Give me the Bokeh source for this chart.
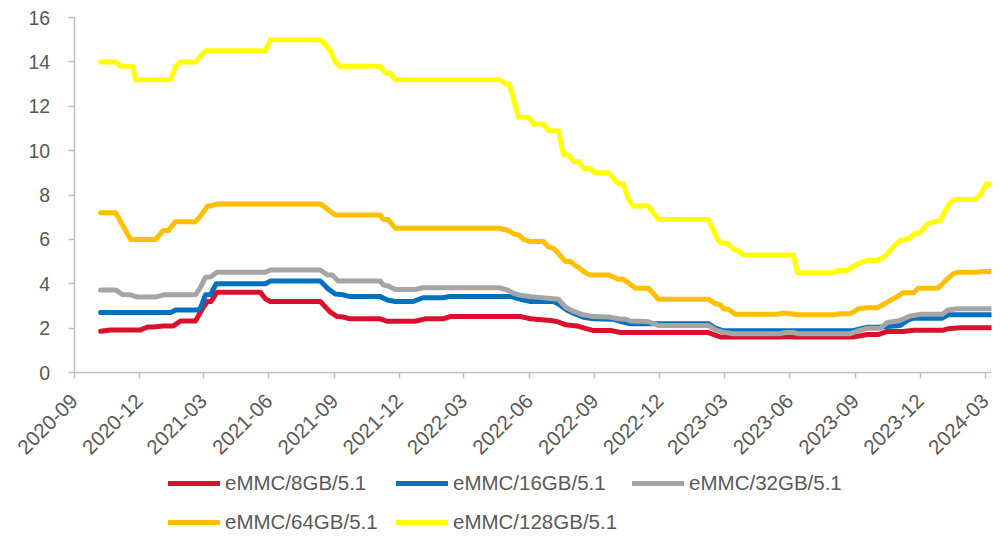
import numpy as np
from math import pi
from bokeh.plotting import figure
from bokeh.models import Range1d, FixedTicker, DatetimeTickFormatter, Legend, LegendItem
from bokeh.embed import file_html
from bokeh.resources import INLINE

# ---------------- data ----------------
series_names = ["eMMC/8GB/5.1", "eMMC/16GB/5.1", "eMMC/32GB/5.1", "eMMC/64GB/5.1", "eMMC/128GB/5.1"]
series_colors = ["#D9112C", "#0070C0", "#A5A5A5", "#FFC000", "#FFFF00"]

dates_8gb = ["2020-10-08", "2020-10-22", "2020-12-03", "2020-12-13", "2020-12-20", "2021-01-04", "2021-01-18",
             "2021-01-28", "2021-02-18", "2021-03-01", "2021-03-07", "2021-03-12", "2021-03-20", "2021-05-20",
             "2021-05-27", "2021-06-03", "2021-08-12", "2021-08-26", "2021-09-05", "2021-09-13", "2021-09-23",
             "2021-11-04", "2021-11-14", "2021-12-23", "2022-01-06", "2022-01-31", "2022-02-10", "2022-05-20",
             "2022-06-03", "2022-06-10", "2022-06-30", "2022-07-10", "2022-07-22", "2022-08-07", "2022-08-16",
             "2022-08-30", "2022-09-23", "2022-10-07", "2023-02-07", "2023-02-24", "2023-05-19", "2023-05-29",
             "2023-06-06", "2023-08-29", "2023-09-18", "2023-10-03", "2023-10-16", "2023-11-07", "2023-11-22",
             "2024-01-01", "2024-01-09", "2024-01-26", "2024-03-10"]
values_8gb = [1.86, 1.92, 1.92, 2.05, 2.05, 2.10, 2.10,
              2.32, 2.32, 2.94, 3.20, 3.20, 3.62, 3.62,
              3.32, 3.20, 3.20, 2.72, 2.52, 2.50, 2.42,
              2.42, 2.31, 2.31, 2.42, 2.42, 2.52, 2.52,
              2.42, 2.40, 2.34, 2.30, 2.15, 2.10, 2.01,
              1.89, 1.89, 1.80, 1.80, 1.60, 1.60, 1.62,
              1.60, 1.60, 1.71, 1.71, 1.85, 1.85, 1.90,
              1.90, 1.97, 2.02, 2.02]

dates_16gb = ["2020-10-08", "2021-01-14", "2021-01-21", "2021-02-21", "2021-02-25", "2021-03-04", "2021-03-11",
              "2021-03-19", "2021-05-27", "2021-06-03", "2021-08-12", "2021-08-23", "2021-09-02", "2021-09-13",
              "2021-09-23", "2021-11-04", "2021-11-14", "2021-11-25", "2021-12-20", "2022-01-03", "2022-01-31",
              "2022-02-10", "2022-05-06", "2022-05-20", "2022-06-03", "2022-07-05", "2022-07-12", "2022-07-25",
              "2022-08-02", "2022-08-16", "2022-08-30", "2022-09-27", "2022-10-11", "2022-10-21", "2023-02-07",
              "2023-02-17", "2023-02-28", "2023-08-29", "2023-09-18", "2023-10-02", "2023-10-16", "2023-11-03",
              "2023-11-14", "2023-11-22", "2024-01-01", "2024-01-09", "2024-03-10"]
values_16gb = [2.70, 2.70, 2.82, 2.82, 2.90, 3.50, 3.50,
               4.00, 4.00, 4.12, 4.12, 3.77, 3.54, 3.50,
               3.42, 3.42, 3.27, 3.20, 3.20, 3.37, 3.37,
               3.43, 3.43, 3.30, 3.20, 3.20, 3.09, 2.79,
               2.67, 2.49, 2.42, 2.40, 2.27, 2.20, 2.20,
               2.00, 1.88, 1.88, 2.04, 2.04, 2.07, 2.12,
               2.37, 2.45, 2.45, 2.60, 2.60]

dates_32gb = ["2020-10-08", "2020-10-29", "2020-11-08", "2020-11-19", "2020-11-29", "2020-12-24", "2021-01-04",
              "2021-02-18", "2021-02-25", "2021-03-04", "2021-03-11", "2021-03-20", "2021-05-27", "2021-06-03",
              "2021-08-12", "2021-08-22", "2021-08-29", "2021-09-06", "2021-11-04", "2021-11-08", "2021-11-15",
              "2021-11-25", "2021-12-23", "2022-01-03", "2022-04-20", "2022-05-01", "2022-05-10", "2022-05-20",
              "2022-06-03", "2022-07-05", "2022-07-12", "2022-07-22", "2022-08-02", "2022-08-16", "2022-08-30",
              "2022-09-20", "2022-10-04", "2022-10-14", "2022-10-21", "2022-11-14", "2022-11-29", "2023-02-07",
              "2023-02-17", "2023-02-28", "2023-03-14", "2023-05-19", "2023-05-26", "2023-06-06", "2023-06-13",
              "2023-08-25", "2023-09-04", "2023-09-18", "2023-10-06", "2023-10-16", "2023-11-03", "2023-11-17",
              "2023-12-01", "2024-01-01", "2024-01-09", "2024-01-22", "2024-03-10"]
values_32gb = [3.72, 3.72, 3.51, 3.50, 3.40, 3.40, 3.50,
               3.50, 3.84, 4.29, 4.30, 4.52, 4.52, 4.62,
               4.62, 4.40, 4.40, 4.12, 4.12, 3.95, 3.90,
               3.74, 3.74, 3.82, 3.82, 3.72, 3.57, 3.48,
               3.42, 3.32, 3.30, 2.94, 2.75, 2.60, 2.52,
               2.50, 2.42, 2.40, 2.32, 2.30, 2.12, 2.12,
               1.92, 1.82, 1.75, 1.75, 1.80, 1.80, 1.75,
               1.75, 1.86, 2.00, 2.00, 2.25, 2.35, 2.55,
               2.62, 2.62, 2.82, 2.87, 2.87]

dates_64gb = ["2020-10-08", "2020-10-29", "2020-11-19", "2020-12-24", "2021-01-04", "2021-01-11", "2021-01-21",
              "2021-02-18", "2021-02-25", "2021-03-07", "2021-03-11", "2021-03-20", "2021-08-12", "2021-09-02",
              "2021-11-04", "2021-11-08", "2021-11-15", "2021-11-25", "2022-04-20", "2022-05-03", "2022-05-10",
              "2022-05-17", "2022-05-24", "2022-06-03", "2022-06-21", "2022-06-28", "2022-07-05", "2022-07-22",
              "2022-07-29", "2022-08-05", "2022-08-09", "2022-08-16", "2022-08-25", "2022-09-20", "2022-10-04",
              "2022-10-11", "2022-10-28", "2022-11-15", "2022-11-29", "2023-02-07", "2023-02-17", "2023-02-24",
              "2023-02-28", "2023-03-07", "2023-03-17", "2023-05-15", "2023-05-23", "2023-06-02", "2023-06-12",
              "2023-08-01", "2023-08-11", "2023-08-25", "2023-09-05", "2023-09-18", "2023-10-02", "2023-10-16",
              "2023-10-30", "2023-11-07", "2023-11-22", "2023-11-28", "2023-12-26", "2024-01-05", "2024-01-16",
              "2024-01-23", "2024-02-19", "2024-02-26", "2024-03-10"]
values_64gb = [7.20, 7.20, 6.00, 6.00, 6.40, 6.40, 6.80,
               6.80, 7.05, 7.50, 7.50, 7.60, 7.60, 7.10,
               7.10, 6.90, 6.90, 6.50, 6.50, 6.40, 6.25,
               6.20, 6.00, 5.90, 5.90, 5.65, 5.60, 5.00,
               5.00, 4.80, 4.75, 4.55, 4.40, 4.40, 4.20,
               4.20, 3.80, 3.80, 3.30, 3.30, 3.10, 3.05,
               2.87, 2.85, 2.62, 2.62, 2.68, 2.65, 2.60,
               2.60, 2.65, 2.65, 2.87, 2.92, 2.92, 3.17,
               3.42, 3.60, 3.60, 3.80, 3.80, 4.12, 4.45,
               4.52, 4.52, 4.55, 4.55]

dates_128gb = ["2020-10-08", "2020-10-29", "2020-11-05", "2020-11-22", "2020-11-26", "2021-01-14", "2021-01-21",
               "2021-01-28", "2021-02-18", "2021-03-04", "2021-05-27", "2021-06-03", "2021-08-12", "2021-08-19",
               "2021-08-26", "2021-09-02", "2021-09-09", "2021-11-04", "2021-11-11", "2021-11-18", "2021-11-25",
               "2022-04-20", "2022-04-29", "2022-05-04", "2022-05-17", "2022-05-31", "2022-06-07", "2022-06-21",
               "2022-06-28", "2022-07-12", "2022-07-19", "2022-07-26", "2022-08-02", "2022-08-09", "2022-08-16",
               "2022-08-25", "2022-09-01", "2022-09-20", "2022-10-04", "2022-10-11", "2022-10-18", "2022-10-25",
               "2022-11-15", "2022-11-29", "2023-02-07", "2023-02-20", "2023-02-24", "2023-03-07", "2023-03-14",
               "2023-03-20", "2023-03-28", "2023-06-06", "2023-06-12", "2023-08-01", "2023-08-07", "2023-08-21",
               "2023-09-04", "2023-09-18", "2023-10-02", "2023-10-13", "2023-10-25", "2023-11-03", "2023-11-17",
               "2023-11-22", "2023-12-01", "2023-12-11", "2023-12-22", "2023-12-29", "2024-01-05", "2024-01-12",
               "2024-01-19", "2024-02-16", "2024-02-23", "2024-03-03", "2024-03-10"]
values_128gb = [14.0, 14.0, 13.8, 13.8, 13.2, 13.2, 13.8,
                14.0, 14.0, 14.5, 14.5, 15.0, 15.0, 14.8,
                14.5, 14.0, 13.8, 13.8, 13.5, 13.5, 13.2,
                13.2, 13.0, 13.0, 11.5, 11.5, 11.2, 11.2,
                10.9, 10.9, 9.8, 9.8, 9.5, 9.5, 9.2,
                9.2, 9.0, 9.0, 8.5, 8.5, 7.8, 7.5,
                7.5, 6.9, 6.9, 6.0, 5.85, 5.8, 5.55,
                5.5, 5.3, 5.3, 4.5, 4.5, 4.6, 4.6,
                4.9, 5.05, 5.05, 5.25, 5.7, 5.95, 6.05,
                6.25, 6.3, 6.7, 6.8, 6.85, 7.3, 7.65,
                7.8, 7.8, 8.0, 8.5, 8.5]

x_tick_labels = ["2020-09", "2020-12", "2021-03", "2021-06", "2021-09", "2021-12", "2022-03", "2022-06",
                 "2022-09", "2022-12", "2023-03", "2023-06", "2023-09", "2023-12", "2024-03"]
y_ticks = [0, 2, 4, 6, 8, 10, 12, 14, 16]
x_start, x_end = "2020-09-01", "2024-03-10"
y_min, y_max = 0, 16


def to_dt(strings):
    return np.array(strings, dtype="datetime64[D]")


def to_ms(s):
    return float((np.datetime64(s, "D") - np.datetime64("1970-01-01", "D")) / np.timedelta64(1, "ms"))


TEXT = "#595959"
AXIS = "#BFBFBF"
FONT = "Liberation Sans"

# Layout in screen pixels: the value axis sits at x=73.7, the date range ends at x=991;
# value 16 at y=17, value 0 at y=372.  The frame spans the whole canvas so that the
# tick labels and the legend outside the axes are drawn inside it (not clipped).
W, H = 1000, 536
RIGHT_PAD = 9
AXIS_X, END_X = 73.7, W - RIGHT_PAD
TOP_Y, ZERO_Y = 17, 372
px_per_unit = (ZERO_Y - TOP_Y) / float(y_max - y_min)
y_low = y_min - (H - ZERO_Y) / px_per_unit
y_high = y_max + TOP_Y / px_per_unit
ms_per_px = (to_ms(x_end) - to_ms(x_start)) / (END_X - AXIS_X)
x_low = to_ms(x_start) - AXIS_X * ms_per_px

p = figure(width=W, height=H, x_axis_type="datetime",
           x_range=Range1d(x_low, to_ms(x_end)), y_range=Range1d(y_low, y_high),
           output_backend="svg", toolbar_location=None,
           min_border_left=0, min_border_right=RIGHT_PAD, min_border_top=0, min_border_bottom=0)

p.grid.visible = False
p.outline_line_color = None
p.background_fill_color = "white"

all_dates = [dates_8gb, dates_16gb, dates_32gb, dates_64gb, dates_128gb]
all_values = [values_8gb, values_16gb, values_32gb, values_64gb, values_128gb]

renderers = []
for d, v, c in zip(all_dates, all_values, series_colors):
    r = p.line(to_dt(d), v, line_color=c, line_width=5, line_cap="round", line_join="round")
    renderers.append(r)

# axes
p.xaxis.fixed_location = y_min
p.xaxis.bounds = (to_ms(x_start), to_ms(x_end))
p.xaxis.ticker = FixedTicker(ticks=[to_ms(t + "-01") for t in x_tick_labels])
fmt = "%Y-%m"
p.xaxis.formatter = DatetimeTickFormatter(years=fmt, months=fmt, days=fmt, hours=fmt, hourmin=fmt,
                                          minutes=fmt, minsec=fmt, seconds=fmt, milliseconds=fmt,
                                          microseconds=fmt)
p.xaxis.major_label_orientation = pi / 4
p.xaxis.major_label_standoff = 19
p.yaxis.fixed_location = to_ms(x_start)
p.yaxis.ticker = FixedTicker(ticks=y_ticks)
p.yaxis.bounds = (y_min, y_max)
p.yaxis.major_label_standoff = 18

for ax in [p.xaxis[0], p.yaxis[0]]:
    ax.axis_line_color = AXIS
    ax.axis_line_width = 1.5
    ax.major_tick_line_color = AXIS
    ax.major_tick_line_width = 1.5
    ax.major_tick_out = 6
    ax.major_tick_in = 0
    ax.minor_tick_out = 0
    ax.minor_tick_in = 0
    ax.major_label_text_font = FONT
    ax.major_label_text_color = TEXT
p.yaxis.major_label_text_font_size = "19.5px"
p.xaxis.major_label_text_font_size = "20.5px"

legend = Legend(items=[LegendItem(label=n, renderers=[r]) for n, r in zip(series_names, renderers)],
                orientation="horizontal", ncols=3, location=(168, 2),
                padding=0, margin=0, spacing=15, border_line_color=None, background_fill_alpha=0,
                glyph_width=52, glyph_height=20, label_height=20, label_width=156, label_standoff=5,
                label_text_font=FONT, label_text_font_size="20.5px", label_text_color=TEXT)
p.add_layout(legend, "center")

open("out.html", "w").write(file_html(p, INLINE))
